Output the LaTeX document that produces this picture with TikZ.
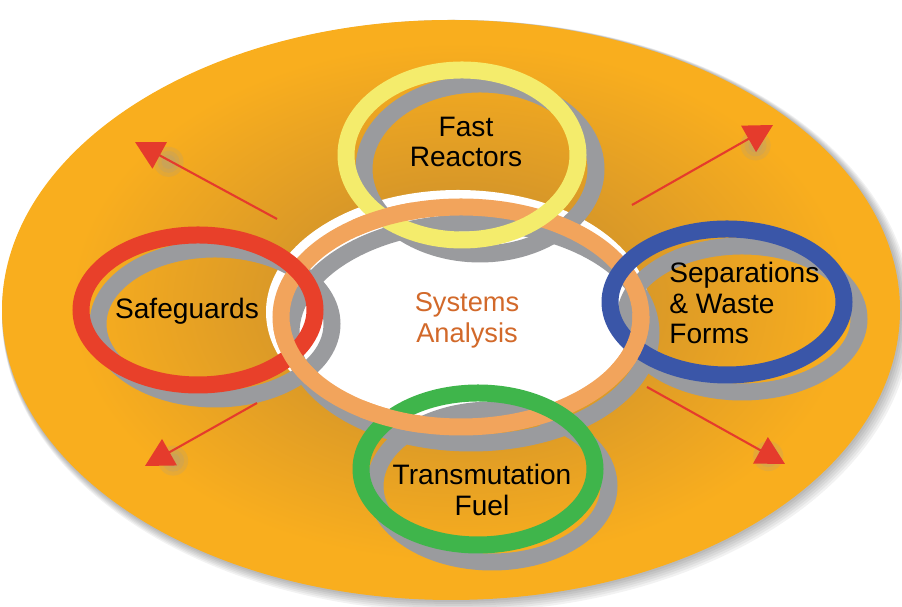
\documentclass[tikz,border=0pt]{standalone}
\usepackage{fontspec}
\setmainfont{Liberation Sans}
\usetikzlibrary{arrows.meta, calc}
\definecolor{discOrange}{HTML}{F9AE1E}
\definecolor{discDark}{HTML}{BE8630}
\definecolor{ringPeach}{HTML}{F2A45C}
\definecolor{ringYellow}{HTML}{F4EC6C}
\definecolor{ringRed}{HTML}{E8402A}
\definecolor{ringBlue}{HTML}{3A56A8}
\definecolor{ringGreen}{HTML}{3FB54B}
\definecolor{shadowGrey}{HTML}{9A9B9E}
\definecolor{analysisText}{HTML}{D2692A}
\definecolor{arrowRed}{HTML}{E53B2C}

\begin{document}
\begin{tikzpicture}[x=0.02cm, y=0.02cm,
    ringline/.style={line width=0.34cm},
    ringshade/.style={draw=shadowGrey, line width=0.34cm},
    topic/.style={font=\fontsize{16}{17.5}\selectfont, inner sep=0pt, align=center},
    outarrow/.style={draw=arrowRed, line width=1.2pt, -{Triangle[length=16pt, width=17pt]}}]
  \useasboundingbox (0,0) rectangle (902,607);

  % ring centres
  \coordinate (disc) at (451,297);
  \coordinate (peach) at (461,290);
  \coordinate (fr) at (462,452);
  \coordinate (sg) at (198,297);
  \coordinate (sw) at (727,305);
  \coordinate (tf) at (478,138);

  % disc with soft shadow and a darker glow in the middle
  \foreach \g in {1,...,6}
    \fill[black, opacity=0.05] ($(disc)+(\g,-\g)$) ellipse [x radius=449+\g, y radius=290+\g];
  \fill[discOrange] (disc) ellipse [x radius=449, y radius=290];
  \shade[inner color=discDark, outer color=discOrange] (460,305) ellipse [x radius=390, y radius=260];
  \fill[white] (458,295) ellipse [x radius=192, y radius=122];

  % shadows of the rings
  \draw[ringshade] ($(peach)+(10,-16)$) ellipse [x radius=180, y radius=110];
  \draw[ringshade] ($(fr)+(18,-14)$) ellipse [x radius=116, y radius=85];
  \draw[ringshade] ($(sg)+(17,-14)$) ellipse [x radius=117, y radius=75];
  \draw[ringshade] ($(sw)+(15,-17)$) ellipse [x radius=117, y radius=73];
  \draw[ringshade] ($(tf)+(14,-17)$) ellipse [x radius=117, y radius=76];

  % rings
  \draw[ringline, ringPeach] (peach) ellipse [x radius=180, y radius=110];
  \draw[ringline, ringYellow] (fr) ellipse [x radius=116, y radius=85];
  \draw[ringline, ringRed] (sg) ellipse [x radius=117, y radius=75];
  \draw[ringline, ringBlue] (sw) ellipse [x radius=117, y radius=73];
  \draw[ringline, ringGreen] (tf) ellipse [x radius=117, y radius=76];

  % peach ring back on top where it passes over
  \foreach \x/\y in {384/389, 292/252, 635/262, 391/189} {
    \begin{scope}
      \clip (\x,\y) circle [radius=32];
      \draw[ringline, ringPeach] (peach) ellipse [x radius=180, y radius=110];
    \end{scope}
  }

  % labels
  \node[topic] (fast) at (466,465) {Fast\\Reactors};
  \node[topic] (safe) at (187,296) {Safeguards};
  \node[topic, anchor=west, align=left] (sep) at (669,304) {Separations\\\& Waste\\Forms};
  \node[topic] (trans) at (482,117) {Transmutation\\Fuel};
  \node[topic, text=analysisText, font=\fontsize{15.5}{17.5}\selectfont] (sys) at (467,287) {Systems\\Analysis};

  % outward arrows
  \coordinate (nwTail) at (277,388);  \coordinate (nwTip) at (135,465);
  \coordinate (neTail) at (632,402);  \coordinate (neTip) at (773,482);
  \coordinate (swTail) at (257,204);  \coordinate (swTip) at (145,141);
  \coordinate (seTail) at (647,220);  \coordinate (seTip) at (785,143);
  \foreach \a in {nw, ne, sw, se}
    \foreach \r in {15,11,7}
      \fill[shadowGrey, opacity=0.18] ($(\a Tip)!0.18!(\a Tail)+(8,-6)$) circle [radius=\r];
  \draw[outarrow] (nwTail) -- (nwTip);
  \draw[outarrow] (neTail) -- (neTip);
  \draw[outarrow] (swTail) -- (swTip);
  \draw[outarrow] (seTail) -- (seTip);
\end{tikzpicture}
\end{document}
